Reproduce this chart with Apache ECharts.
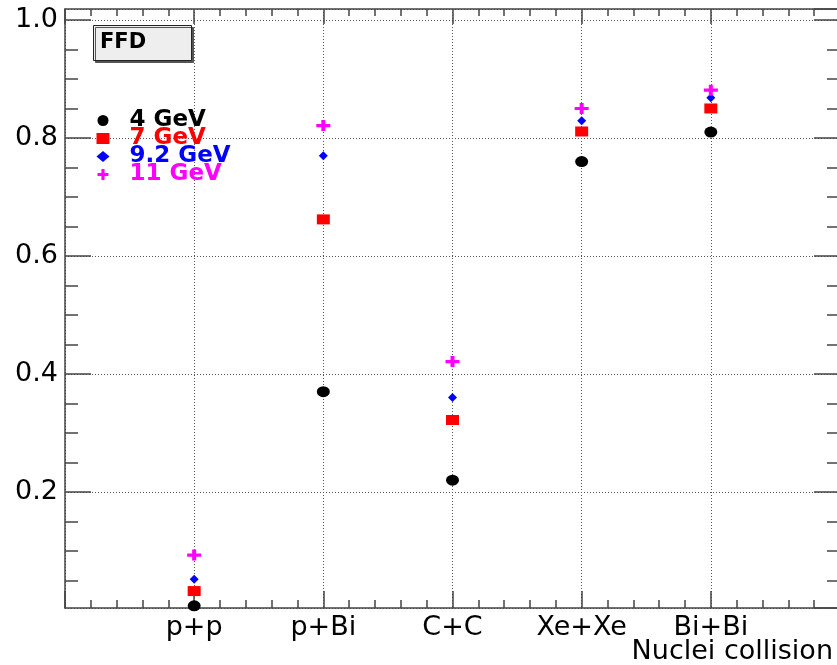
<!DOCTYPE html>
<html>
<head>
<meta charset="utf-8">
<script src="https://cdn.jsdelivr.net/npm/echarts@6/dist/echarts.min.js"></script>
<style>html,body{margin:0;padding:0;background:#fff}#c{width:837px;height:665px}</style>
</head>
<body>
<div id="c"></div>
<script>
const categories = ['p+p', 'p+Bi', 'C+C', 'Xe+Xe', 'Bi+Bi'];
const seriesNames = ['4 GeV', '7 GeV', '9.2 GeV', '11 GeV'];
const values4 = [0.007, 0.370, 0.220, 0.760, 0.810];
const values7 = [0.032, 0.662, 0.322, 0.811, 0.850];
const values92 = [0.052, 0.770, 0.360, 0.829, 0.868];
const values11 = [0.093, 0.821, 0.421, 0.850, 0.881];
const yMinorTicks = [0.05, 0.1, 0.15, 0.25, 0.3, 0.35, 0.45, 0.5, 0.55, 0.65, 0.7, 0.75, 0.85, 0.9, 0.95];
const titleText = 'FFD';
const xAxisTitle = 'Nuclei collision';

const Y_MIN = 0.0033, Y_MAX = 1.0186;
const AX = '#444';
const FONT = 'DejaVu Sans';
const plusPath = 'path://M5,0H9V5H14V9H9V14H5V9H0V5H5Z';

function pts(arr) { return categories.map((c, i) => [i + 1, arr[i]]); }

const chart = echarts.init(document.getElementById('c'), null, {renderer: 'canvas'});
const gridDot = {color: '#555', width: 1, type: [1, 2]};

chart.setOption({
  animation: false,
  backgroundColor: '#fff',
  title: [
    {
      text: titleText,
      left: 93, top: 26,
      padding: [7, 46, 7, 7],
      backgroundColor: '#eeeeee',
      borderColor: '#222', borderWidth: 1,
      shadowColor: '#555', shadowOffsetX: 2, shadowOffsetY: 2, shadowBlur: 0,
      textStyle: {fontFamily: FONT, fontWeight: 'bold', fontSize: 21, color: '#000', lineHeight: 20}
    },
    {
      text: xAxisTitle,
      right: 4, top: 638, padding: 0,
      textStyle: {fontFamily: FONT, fontWeight: 'normal', fontSize: 27, color: '#000', lineHeight: 28}
    }
  ],
  legend: {
    orient: 'vertical',
    left: 91.5, top: 104,
    itemWidth: 13, itemHeight: 11, itemGap: -5,
    textStyle: {fontFamily: FONT, fontWeight: 'bold', fontSize: 23, padding: [0, 0, 0, 15]},
    data: [
      {name: seriesNames[0], textStyle: {color: '#000000'}},
      {name: seriesNames[1], textStyle: {color: '#ff0000'}},
      {name: seriesNames[2], textStyle: {color: '#0000ff'}},
      {name: seriesNames[3], textStyle: {color: '#ff00ff'}}
    ]
  },
  grid: {left: 65, top: 9, width: 775, bottom: 57, containLabel: false, outerBoundsMode: 'none'},
  xAxis: [
    {
      type: 'value', position: 'bottom', min: 0, max: 6, interval: 1,
      axisLine: {show: true, lineStyle: {color: AX, width: 1.5}},
      axisTick: {show: true, inside: true, length: 17, lineStyle: {color: AX, width: 1.5}},
      minorTick: {show: true, splitNumber: 5, length: 8, lineStyle: {color: AX, width: 1.5}},
      splitLine: {show: true, lineStyle: gridDot},
      axisLabel: {
        margin: 6, fontFamily: FONT, fontSize: 27, color: '#000',
        formatter: v => categories[v - 1] || ''
      }
    },
    {
      type: 'value', position: 'top', min: 0, max: 6, interval: 1,
      axisLine: {show: true, lineStyle: {color: AX, width: 1.5}},
      axisTick: {show: true, inside: true, length: 15, lineStyle: {color: AX, width: 1.5}},
      minorTick: {show: true, splitNumber: 5, length: 7, lineStyle: {color: AX, width: 1.5}},
      splitLine: {show: false},
      axisLabel: {show: false}
    }
  ],
  yAxis: [
    {
      type: 'value', position: 'left', min: Y_MIN, max: Y_MAX,
      axisLine: {show: true, lineStyle: {color: AX, width: 1.5}},
      axisTick: {show: true, inside: true, length: 26, lineStyle: {color: AX, width: 1.5}},
      splitLine: {show: true, lineStyle: gridDot},
      axisLabel: {
        margin: 7, fontFamily: FONT, fontSize: 27, color: '#000',
        showMinLabel: false, showMaxLabel: false,
        formatter: v => v.toFixed(1)
      }
    },
    {
      type: 'value', position: 'left', min: Y_MIN, max: Y_MAX,
      axisLine: {show: false},
      axisTick: {show: true, inside: true, length: 13, customValues: yMinorTicks, lineStyle: {color: AX, width: 1.5}},
      splitLine: {show: false},
      axisLabel: {show: false}
    },
    {
      type: 'value', position: 'right', min: Y_MIN, max: Y_MAX,
      axisLine: {show: true, lineStyle: {color: AX, width: 1.5}},
      axisTick: {show: true, inside: true, length: 26, lineStyle: {color: AX, width: 1.5}},
      splitLine: {show: false},
      axisLabel: {show: false}
    },
    {
      type: 'value', position: 'right', min: Y_MIN, max: Y_MAX,
      axisLine: {show: false},
      axisTick: {show: true, inside: true, length: 13, customValues: yMinorTicks, lineStyle: {color: AX, width: 1.5}},
      splitLine: {show: false},
      axisLabel: {show: false}
    }
  ],
  series: [
    {name: seriesNames[0], type: 'scatter', data: pts(values4), symbol: 'circle', symbolSize: [13, 11], itemStyle: {color: '#000000', opacity: 1}, clip: false, z: 3},
    {name: seriesNames[1], type: 'scatter', data: pts(values7), symbol: 'rect', symbolSize: [13, 10], itemStyle: {color: '#ff0000', opacity: 1}, clip: false, z: 4},
    {name: seriesNames[2], type: 'scatter', data: pts(values92), symbol: 'diamond', symbolSize: [9, 9], itemStyle: {color: '#0000ff', opacity: 1}, clip: false, z: 5},
    {name: seriesNames[3], type: 'scatter', data: pts(values11), symbol: plusPath, symbolSize: [14, 11], itemStyle: {color: '#ff00ff', opacity: 1}, clip: false, z: 6}
  ]
});
</script>
</body>
</html>
